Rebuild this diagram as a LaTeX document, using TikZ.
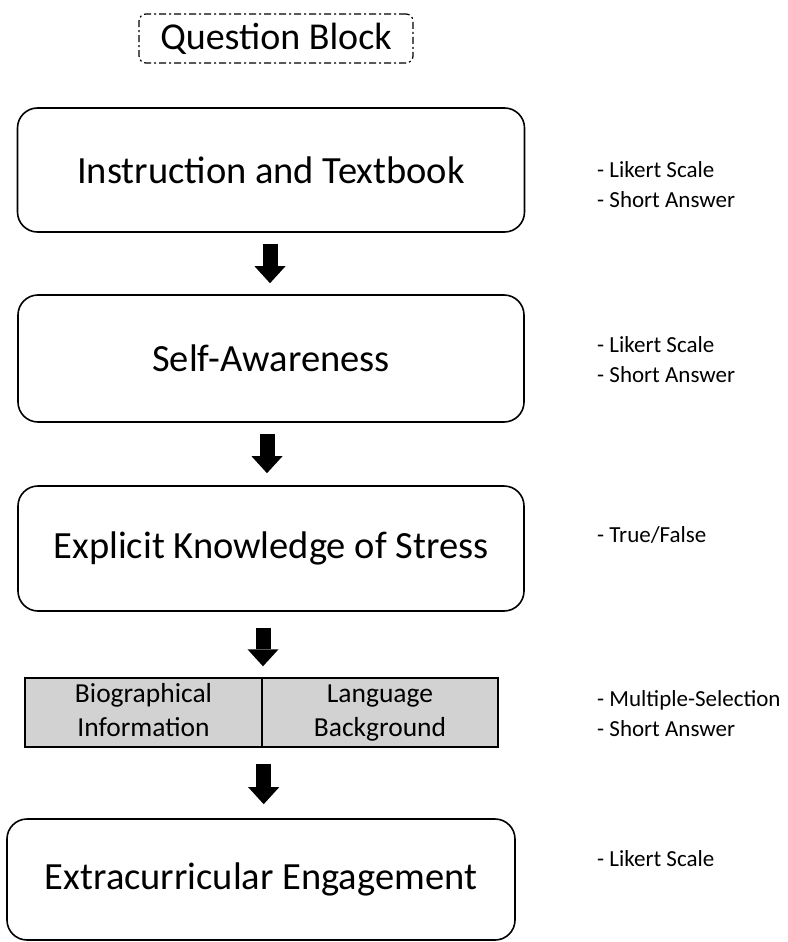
\documentclass[tikz,border=0pt]{standalone}
\usepackage{fontspec}
\setmainfont{Carlito}
\usetikzlibrary{arrows.meta,calc}
\definecolor{cellgray}{RGB}{210,210,210}
\begin{document}
\begin{tikzpicture}[x=1pt,y=-1pt,
  stage/.style={draw, line width=1.6pt, rounded corners=20pt, align=center,
    font=\fontsize{38.5}{44}\selectfont, inner sep=0pt},
  cell/.style={draw, line width=1.4pt, fill=cellgray, align=center,
    font=\fontsize{27.5}{34}\selectfont, inner sep=0pt,
    minimum width=237pt, minimum height=69pt},
  note/.style={anchor=west, align=left, font=\fontsize{23}{30}\selectfont, inner sep=0pt},
  blockarrow/.style={line width=15pt,
    -{Triangle[width=31pt,length=17pt,line width=0pt]}},
  header/.style={draw, line width=1.2pt, dash pattern=on 7pt off 3pt on 2pt off 3pt,
    rounded corners=7pt, font=\fontsize{38}{42}\selectfont,
    minimum width=274pt, minimum height=49pt, inner sep=0pt}]
\useasboundingbox (0,0) rectangle (787,942);

% title label
\node[header] (qb) at (276,38.5) {Question Block};

% survey sections
\node[stage, minimum width=507pt, minimum height=124pt] (s1) at (271,170) {Instruction and Textbook};
\node[stage, minimum width=506pt, minimum height=127pt] (s2) at (271,358.5) {Self-Awareness};
\node[stage, minimum width=506pt, minimum height=125pt] (s3) at (271,548.5) {Explicit Knowledge of Stress};
% struts give both cells the same line boxes
\node[cell] (bio) at (143.5,712.5) {\strut Biographical\\\strut Information};
\node[cell, minimum width=236pt] (lang) at (380,712.5) {\strut Language\\\strut Background};
\node[stage, minimum width=508pt, minimum height=121pt] (s5) at (261,879.5) {Extracurricular Engagement};

% question formats
\node[note] (n1) at (597,185) {- Likert Scale\\- Short Answer};
\node[note] (n2) at (597,360) {- Likert Scale\\- Short Answer};
\node[note] (n3) at (597,535) {- True/False};
\node[note] (n4) at (597,714) {- Multiple-Selection\\- Short Answer};
\node[note] (n5) at (597,859) {- Likert Scale};

% block arrows between sections, kept exactly vertical
\coordinate (a1s) at ($(s1.south)+(-1,0)$);
\draw[blockarrow, shorten <=11pt, shorten >=11pt] (a1s) -- (a1s |- s2.north);
\coordinate (a2s) at ($(s2.south)+(-4,0)$);
\draw[blockarrow, shorten <=11pt, shorten >=12pt] (a2s) -- (a2s |- s3.north);
\coordinate (a3s) at ($(s3.south)+(-8,0)$);
\draw[blockarrow, shorten <=16pt, shorten >=11pt] (a3s) -- (a3s |- bio.north);
\coordinate (a4s) at ($(bio.south east)+(1,0)$);
\draw[blockarrow, shorten <=16pt, shorten >=14pt] (a4s) -- (a4s |- s5.north);
\end{tikzpicture}
\end{document}
